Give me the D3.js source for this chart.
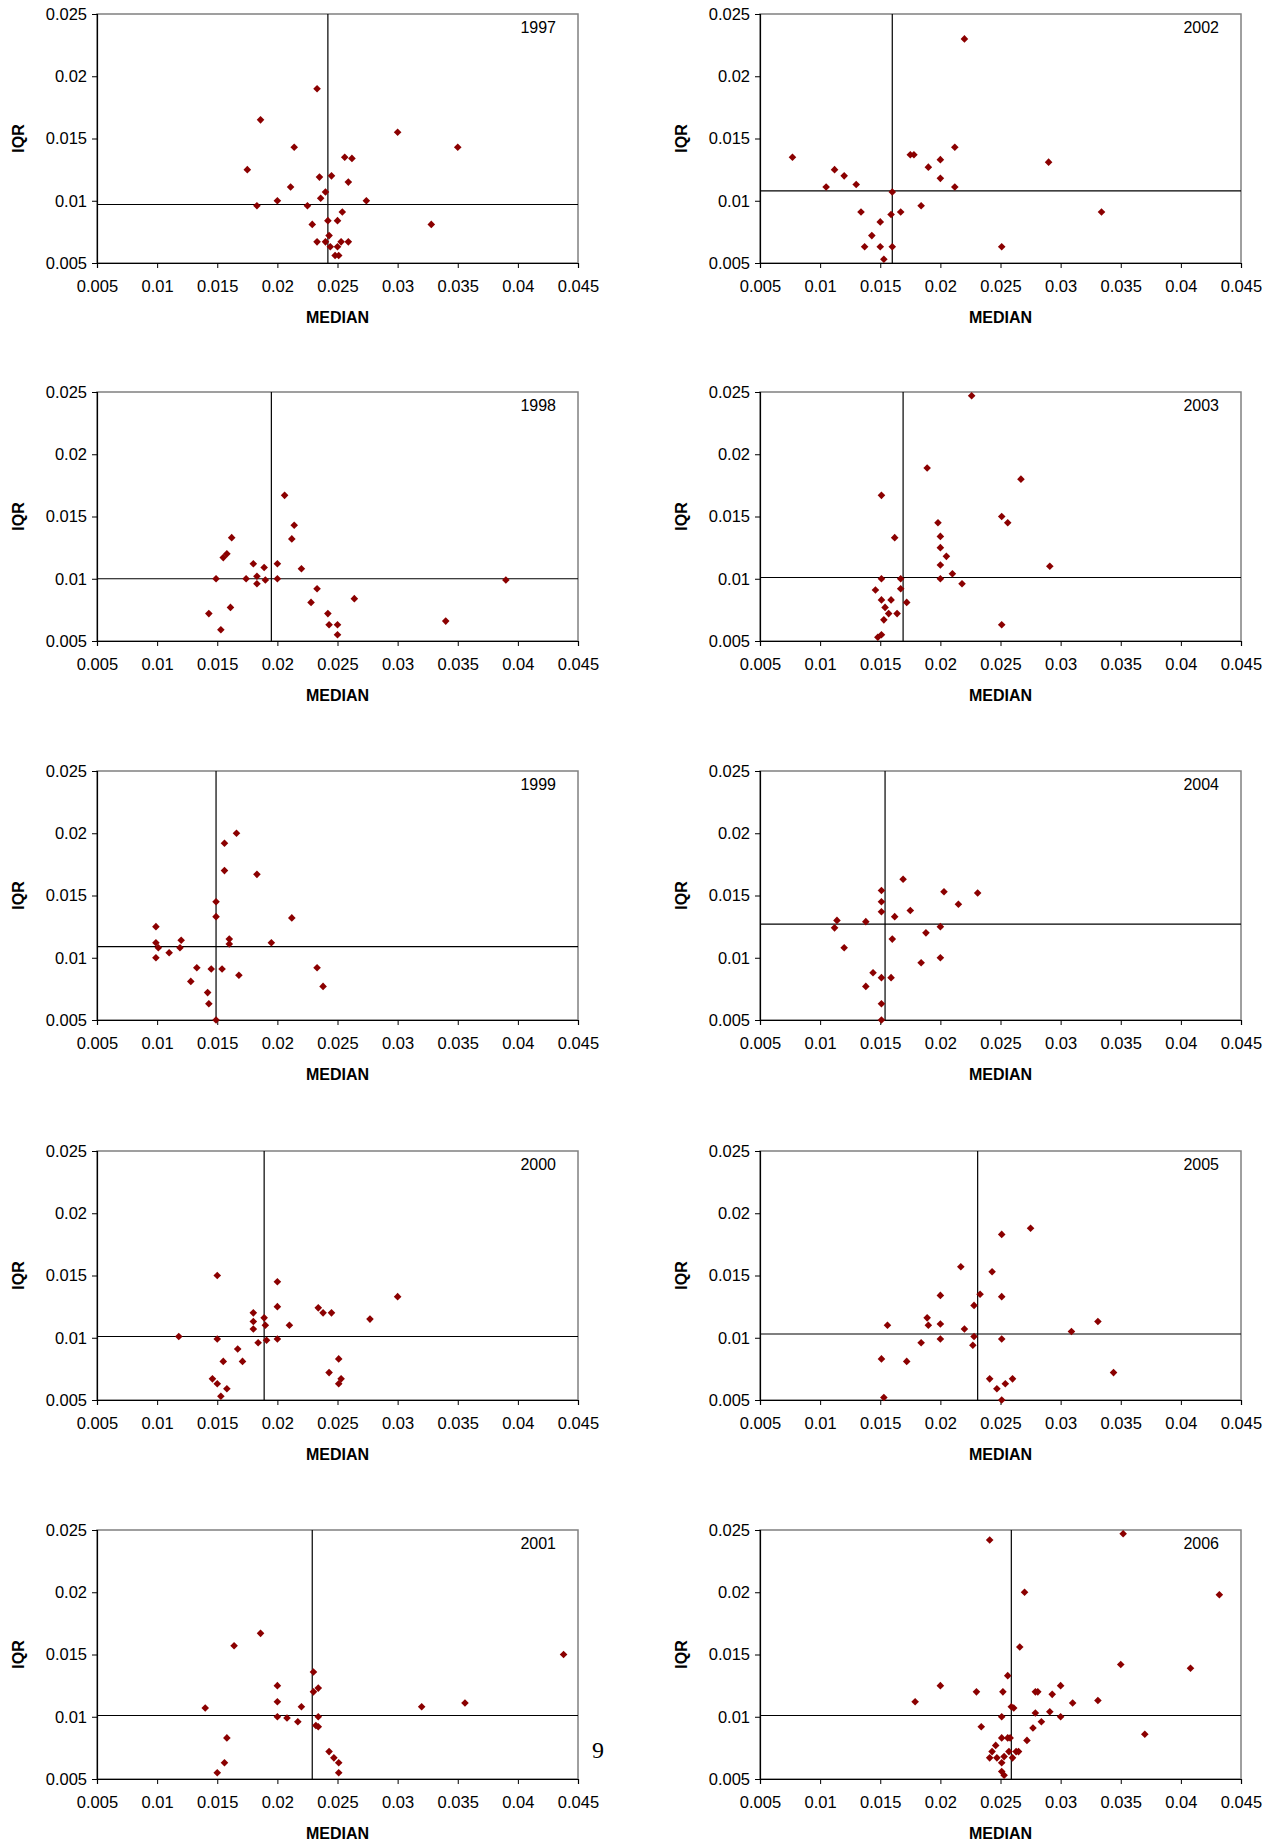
<!DOCTYPE html>
<html>
<head>
<meta charset="utf-8">
<script src="https://cdn.jsdelivr.net/npm/d3@7"></script>
<style>
  body { margin: 0; background: #fff; }
  svg { display: block; }
</style>
</head>
<body>
<div id="chart"></div>
<script>
// panel order: left column 1997-2001, right column 2002-2006
const years = [1997, 1998, 1999, 2000, 2001, 2002, 2003, 2004, 2005, 2006];
const xTicks = [0.005, 0.01, 0.015, 0.02, 0.025, 0.03, 0.035, 0.04, 0.045];
const yTicks = [0.005, 0.01, 0.015, 0.02, 0.025];

// reference lines [median, iqr] per year
const refLines = {
  1997: [0.0242, 0.0097], 1998: [0.0195, 0.0100], 1999: [0.0149, 0.0109],
  2000: [0.0189, 0.0101], 2001: [0.0229, 0.0101], 2002: [0.0160, 0.0108],
  2003: [0.0169, 0.0101], 2004: [0.0154, 0.0127], 2005: [0.0231, 0.0103],
  2006: [0.0259, 0.0101]
};

const pts1997 = [[0.0233,0.0190],[0.0186,0.0165],[0.0300,0.0155],[0.0350,0.0143],[0.0214,0.0143],
  [0.0256,0.0135],[0.0262,0.0134],[0.0175,0.0125],[0.0235,0.0119],[0.0245,0.0120],[0.0259,0.0115],
  [0.0211,0.0111],[0.0240,0.0107],[0.0236,0.0102],[0.0200,0.0100],[0.0274,0.0100],[0.0183,0.0096],
  [0.0225,0.0096],[0.0254,0.0091],[0.0242,0.0084],[0.0250,0.0084],[0.0229,0.0081],[0.0328,0.0081],
  [0.0243,0.0072],[0.0233,0.0067],[0.0240,0.0067],[0.0253,0.0067],[0.0259,0.0067],[0.0244,0.0063],
  [0.0250,0.0063],[0.0248,0.0056],[0.0251,0.0056]];
const pts1998 = [[0.0206,0.0167],[0.0214,0.0143],[0.0212,0.0132],[0.0162,0.0133],[0.0155,0.0117],
  [0.0158,0.0120],[0.0180,0.0112],[0.0189,0.0109],[0.0200,0.0112],[0.0220,0.0108],[0.0149,0.0100],
  [0.0174,0.0100],[0.0183,0.0102],[0.0183,0.0096],[0.0190,0.0099],[0.0200,0.0100],[0.0390,0.0099],
  [0.0233,0.0092],[0.0228,0.0081],[0.0264,0.0084],[0.0161,0.0077],[0.0143,0.0072],[0.0242,0.0072],
  [0.0340,0.0066],[0.0243,0.0063],[0.0250,0.0063],[0.0153,0.0059],[0.0250,0.0055]];
const pts1999 = [[0.0166,0.0200],[0.0156,0.0192],[0.0156,0.0170],[0.0183,0.0167],[0.0149,0.0145],
  [0.0149,0.0133],[0.0212,0.0132],[0.0099,0.0125],[0.0099,0.0112],[0.0101,0.0108],[0.0110,0.0104],
  [0.0120,0.0114],[0.0119,0.0108],[0.0160,0.0115],[0.0160,0.0111],[0.0195,0.0112],[0.0099,0.0100],
  [0.0133,0.0092],[0.0145,0.0091],[0.0154,0.0091],[0.0168,0.0086],[0.0233,0.0092],[0.0238,0.0077],
  [0.0128,0.0081],[0.0142,0.0072],[0.0143,0.0063],[0.0149,0.0050]];
const pts2000 = [[0.0150,0.0150],[0.0200,0.0145],[0.0300,0.0133],[0.0200,0.0125],[0.0234,0.0124],
  [0.0238,0.0120],[0.0245,0.0120],[0.0180,0.0120],[0.0189,0.0116],[0.0180,0.0113],[0.0190,0.0110],
  [0.0210,0.0110],[0.0277,0.0115],[0.0180,0.0107],[0.0118,0.0101],[0.0150,0.0099],[0.0200,0.0099],
  [0.0191,0.0098],[0.0184,0.0096],[0.0167,0.0091],[0.0155,0.0081],[0.0171,0.0081],[0.0251,0.0083],
  [0.0243,0.0072],[0.0253,0.0067],[0.0251,0.0063],[0.0146,0.0067],[0.0150,0.0063],[0.0158,0.0059],
  [0.0153,0.0053]];
const pts2001 = [[0.0438,0.0150],[0.0186,0.0167],[0.0164,0.0157],[0.0230,0.0136],[0.0234,0.0123],
  [0.0230,0.0120],[0.0200,0.0125],[0.0200,0.0112],[0.0220,0.0108],[0.0140,0.0107],[0.0320,0.0108],
  [0.0356,0.0111],[0.0200,0.0100],[0.0208,0.0099],[0.0217,0.0096],[0.0234,0.0100],[0.0232,0.0093],
  [0.0234,0.0092],[0.0158,0.0083],[0.0243,0.0072],[0.0247,0.0067],[0.0251,0.0063],[0.0156,0.0063],
  [0.0150,0.0055],[0.0251,0.0055]];
const pts2002 = [[0.0077,0.0135],[0.0220,0.0230],[0.0112,0.0125],[0.0120,0.0120],[0.0105,0.0111],
  [0.0130,0.0113],[0.0175,0.0137],[0.0178,0.0137],[0.0212,0.0143],[0.0200,0.0133],[0.0190,0.0127],
  [0.0200,0.0118],[0.0212,0.0111],[0.0290,0.0131],[0.0160,0.0107],[0.0134,0.0091],[0.0167,0.0091],
  [0.0184,0.0096],[0.0334,0.0091],[0.0159,0.0089],[0.0150,0.0083],[0.0143,0.0072],[0.0137,0.0063],
  [0.0150,0.0063],[0.0160,0.0063],[0.0251,0.0063],[0.0153,0.0053]];
const pts2003 = [[0.0226,0.0247],[0.0189,0.0189],[0.0267,0.0180],[0.0151,0.0167],[0.0251,0.0150],
  [0.0256,0.0145],[0.0198,0.0145],[0.0200,0.0134],[0.0162,0.0133],[0.0200,0.0125],[0.0205,0.0118],
  [0.0200,0.0111],[0.0291,0.0110],[0.0210,0.0104],[0.0151,0.0100],[0.0167,0.0100],[0.0200,0.0100],
  [0.0218,0.0096],[0.0146,0.0091],[0.0167,0.0092],[0.0151,0.0083],[0.0159,0.0083],[0.0172,0.0081],
  [0.0154,0.0077],[0.0157,0.0072],[0.0164,0.0072],[0.0153,0.0067],[0.0251,0.0063],[0.0151,0.0055],
  [0.0148,0.0053]];
const pts2004 = [[0.0169,0.0163],[0.0151,0.0154],[0.0203,0.0153],[0.0231,0.0152],[0.0151,0.0145],
  [0.0215,0.0143],[0.0151,0.0137],[0.0175,0.0138],[0.0162,0.0133],[0.0114,0.0130],[0.0138,0.0129],
  [0.0112,0.0124],[0.0200,0.0125],[0.0188,0.0120],[0.0160,0.0115],[0.0120,0.0108],[0.0184,0.0096],
  [0.0200,0.0100],[0.0144,0.0088],[0.0151,0.0084],[0.0159,0.0084],[0.0138,0.0077],[0.0151,0.0063],
  [0.0151,0.0050]];
const pts2005 = [[0.0275,0.0188],[0.0251,0.0183],[0.0217,0.0157],[0.0243,0.0153],[0.0200,0.0134],
  [0.0233,0.0135],[0.0251,0.0133],[0.0228,0.0126],[0.0189,0.0116],[0.0190,0.0110],[0.0200,0.0111],
  [0.0156,0.0110],[0.0220,0.0107],[0.0331,0.0113],[0.0309,0.0105],[0.0228,0.0101],[0.0200,0.0099],
  [0.0251,0.0099],[0.0227,0.0094],[0.0184,0.0096],[0.0151,0.0083],[0.0172,0.0081],[0.0344,0.0072],
  [0.0241,0.0067],[0.0260,0.0067],[0.0254,0.0063],[0.0247,0.0059],[0.0153,0.0052],[0.0251,0.0050]];
const pts2006 = [[0.0241,0.0242],[0.0352,0.0247],[0.0270,0.0200],[0.0432,0.0198],[0.0266,0.0156],
  [0.0350,0.0142],[0.0408,0.0139],[0.0256,0.0133],[0.0200,0.0125],[0.0300,0.0125],[0.0230,0.0120],
  [0.0252,0.0120],[0.0279,0.0120],[0.0281,0.0120],[0.0293,0.0118],[0.0179,0.0112],[0.0310,0.0111],
  [0.0331,0.0113],[0.0259,0.0108],[0.0261,0.0107],[0.0279,0.0103],[0.0291,0.0104],[0.0251,0.0100],
  [0.0300,0.0100],[0.0284,0.0096],[0.0234,0.0092],[0.0277,0.0091],[0.0370,0.0086],[0.0251,0.0083],
  [0.0256,0.0083],[0.0258,0.0083],[0.0272,0.0081],[0.0246,0.0077],[0.0243,0.0072],[0.0257,0.0072],
  [0.0263,0.0072],[0.0265,0.0072],[0.0241,0.0067],[0.0247,0.0067],[0.0253,0.0068],[0.0260,0.0067],
  [0.0251,0.0063],[0.0251,0.0056],[0.0253,0.0053]];

const points = {
  1997: pts1997, 1998: pts1998, 1999: pts1999, 2000: pts2000, 2001: pts2001,
  2002: pts2002, 2003: pts2003, 2004: pts2004, 2005: pts2005, 2006: pts2006
};

const width = 1277, height = 1842;
const plotW = 481, plotH = 249;
const colLeft = [97, 760];
const rowTop = [14, 392, 771, 1151, 1530];
const font = "Liberation Sans, Arial, sans-serif";

const svg = d3.select("#chart").append("svg")
  .attr("width", width).attr("height", height);

const x = d3.scaleLinear().domain([0.005, 0.045]).range([0, plotW]);
const y = d3.scaleLinear().domain([0.005, 0.025]).range([plotH, 0]);
const fmt = d => String(+d.toFixed(3));

const diamond = (cx, cy, r) => `M${cx},${cy - r}L${cx + r},${cy}L${cx},${cy + r}L${cx - r},${cy}Z`;

years.forEach((yr, i) => {
  const col = Math.floor(i / 5), row = i % 5;
  const g = svg.append("g")
    .attr("transform", `translate(${colLeft[col]},${rowTop[row]})`);

  // frame
  g.append("rect")
    .attr("width", plotW).attr("height", plotH)
    .attr("fill", "none").attr("stroke", "#808080").attr("stroke-width", 1.5);

  // axes
  const xa = g.append("g").attr("transform", `translate(0,${plotH})`)
    .call(d3.axisBottom(x).tickValues(xTicks).tickFormat(fmt).tickSize(5).tickPadding(12));
  const ya = g.append("g")
    .call(d3.axisLeft(y).tickValues(yTicks).tickFormat(fmt).tickSize(5).tickPadding(5));
  [xa, ya].forEach(a => {
    a.select(".domain").attr("stroke", "#000").attr("stroke-width", 1.2);
    a.selectAll(".tick line").attr("stroke", "#000");
    a.selectAll("text").attr("font-family", font).attr("font-size", 16.5).attr("fill", "#000");
  });

  // reference lines
  const [mx, my] = refLines[yr];
  g.append("line")
    .attr("x1", x(mx)).attr("x2", x(mx)).attr("y1", 0).attr("y2", plotH)
    .attr("stroke", "#000").attr("stroke-width", 1.2);
  g.append("line")
    .attr("x1", 0).attr("x2", plotW).attr("y1", y(my)).attr("y2", y(my))
    .attr("stroke", "#000").attr("stroke-width", 1.2);

  // points
  g.selectAll(".pt")
    .data(points[yr])
    .join("path")
    .classed("pt", true)
    .attr("d", d => diamond(x(d[0]), y(d[1]), 3.8))
    .attr("fill", "#8B0000");

  // year label
  g.append("text")
    .attr("x", plotW - 22).attr("y", 19)
    .attr("text-anchor", "end")
    .attr("font-family", font).attr("font-size", 16)
    .text(yr);

  // axis titles
  g.append("text")
    .attr("x", plotW / 2).attr("y", plotH + 60)
    .attr("text-anchor", "middle")
    .attr("font-family", font).attr("font-size", 16).attr("font-weight", "bold")
    .text("MEDIAN");
  g.append("text")
    .attr("transform", `translate(${-73},${plotH / 2}) rotate(-90)`)
    .attr("text-anchor", "middle")
    .attr("font-family", font).attr("font-size", 16).attr("font-weight", "bold")
    .text("IQR");
});

// page number
svg.append("text")
  .attr("x", 598).attr("y", 1758)
  .attr("text-anchor", "middle")
  .attr("font-family", "Liberation Serif, Times New Roman, serif").attr("font-size", 24)
  .text("9");
</script>
</body>
</html>
